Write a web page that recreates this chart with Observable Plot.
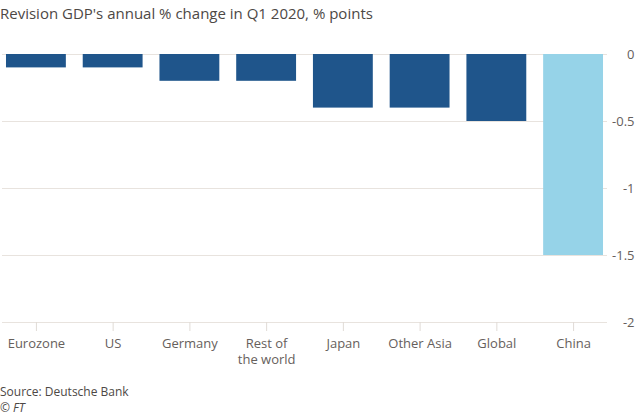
<!DOCTYPE html>
<html>
<head>
<meta charset="utf-8">
<script src="https://cdn.jsdelivr.net/npm/d3@7"></script>
<script src="https://cdn.jsdelivr.net/npm/@observablehq/plot@0.6"></script>
<style>
  body { margin: 0; background: #fff; font-family: "Open Sans", "Noto Sans", sans-serif; overflow: hidden; }
  #title { position: absolute; left: 0; top: 3px; font-size: 15px; line-height: 20px; color: #4d4845; }
  #chart { position: absolute; left: 0; top: 28px; }
  #source { position: absolute; left: 0; top: 384px; font-size: 12px; line-height: 16px; color: #4d4845; }
  #source div { white-space: nowrap; }
</style>
</head>
<body>
<div id="title">Revision GDP's annual % change in Q1 2020, % points</div>
<div id="chart"></div>
<div id="source"><div>Source: Deutsche Bank</div><div><i>© FT</i></div></div>
<script>
const regions = ["Eurozone", "US", "Germany", "Rest of\nthe world", "Japan", "Other Asia", "Global", "China"];
const revisions = [-0.1, -0.1, -0.2, -0.2, -0.4, -0.4, -0.5, -1.5];
const highlight = ["no", "no", "no", "no", "no", "no", "no", "yes"];
const yTicks = [0, -0.5, -1, -1.5, -2];

const data = regions.map((r, i) => ({region: r, value: revisions[i], hl: highlight[i]}));

const chart = Plot.plot({
  width: 640,
  height: 342,
  marginTop: 26,
  marginBottom: 48,
  marginLeft: 2,
  marginRight: 33,
  style: {fontFamily: "'Open Sans', 'Noto Sans', sans-serif", fontSize: "13px", color: "#66605c", background: "#fff"},
  x: {domain: regions, paddingInner: 0.22, paddingOuter: 0.052, round: false, label: null},
  y: {domain: [-2, 0], label: null},
  color: {domain: ["no", "yes"], range: ["#1f558b", "#96d3e8"]},
  marks: [
    Plot.gridY(yTicks, {stroke: "#e8e3de", strokeOpacity: 1}),
    Plot.barY(data, {x: "region", y: "value", fill: "hl"}),
    Plot.axisX({tickSize: 9, tickPadding: 5, stroke: "#e0dbd6", fill: "#66605c", fontSize: 13, lineAnchor: "top", lineHeight: 1.25}),
    Plot.axisY(yTicks, {anchor: "right", tickSize: 0, tickPadding: 27, textAnchor: "end", tickFormat: d => String(d), fill: "#66605c", fontSize: 13})
  ]
});
document.getElementById("chart").appendChild(chart);
</script>
</body>
</html>
